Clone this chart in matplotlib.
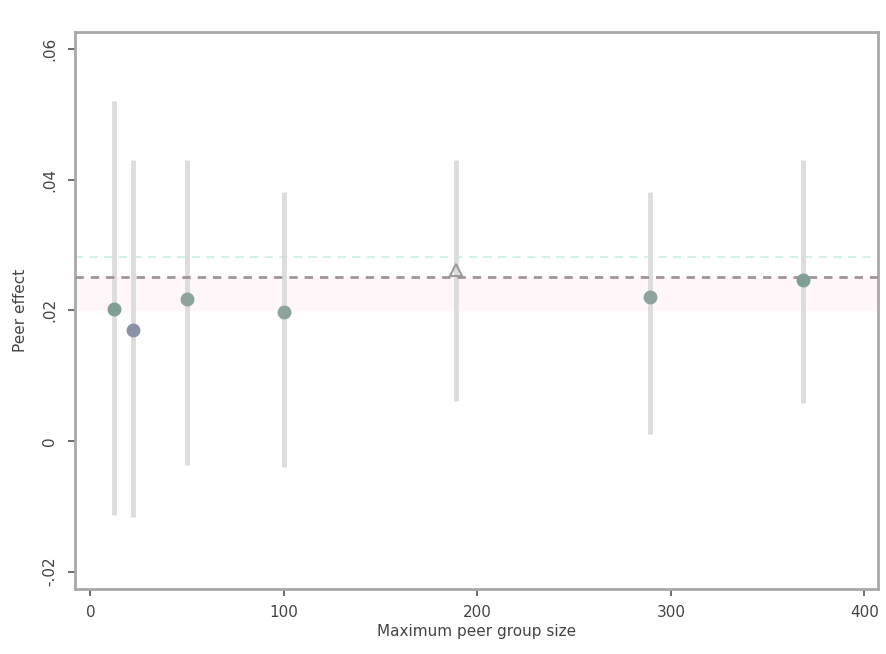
"""Peer effect by maximum peer group size."""

import matplotlib as mpl
import matplotlib.pyplot as plt
import numpy as np

mpl.use("Agg")

group_size = [12, 22, 50, 100, 189, 289, 368]
effect = [0.0202, 0.0170, 0.0218, 0.0197, 0.0261, 0.0220, 0.0246]
ci_low = [-0.0113, -0.0116, -0.0037, -0.0040, 0.0061, 0.0011, 0.0058]
ci_high = [0.0521, 0.0430, 0.0430, 0.0381, 0.0430, 0.0381, 0.0430]
marker_kind = ["o", "o", "o", "o", "^", "o", "o"]
marker_color = ["#7f9e96", "#8a93a6", "#8fa39e", "#8fa39e", "#9a9a9a", "#8fa39e", "#7f9e96"]

pooled_effect = 0.0251
pooled_alt = 0.0281
pooled_band = (0.0200, 0.0251)

x_ticks = [0, 100, 200, 300, 400]
y_ticks = [-0.02, 0, 0.02, 0.04, 0.06]
y_ticklabels = ["-.02", "0", ".02", ".04", ".06"]

fig = plt.figure(figsize=(8.86, 6.54), dpi=100)
ax = fig.add_axes([0.085, 0.099, 0.906, 0.852])

ax.axhspan(*pooled_band, color="#fef6f9", zorder=0)
ax.axhline(pooled_alt, color="#d3f1e7", lw=1.5, ls=(0, (4, 3)), zorder=1)

for x, lo, hi in zip(group_size, ci_low, ci_high):
    ax.plot([x, x], [lo, hi], color="#dcdcdc", lw=3.5, solid_capstyle="butt", zorder=2)

ax.axhline(pooled_effect, color="#a3929c", lw=2, ls=(0, (3, 2.5)), zorder=3)

for x, y, m, c in zip(group_size, effect, marker_kind, marker_color):
    if m == "^":
        ax.plot(x, y, marker=m, ms=8, mfc="none", mec=c, mew=1.5, zorder=4)
    else:
        ax.plot(x, y, marker=m, ms=9, color=c, zorder=4)

ax.set_xlim(-7.8, 407)
ax.set_ylim(-0.0227, 0.0626)
ax.set_xticks(x_ticks)
ax.set_xticklabels([str(t) for t in x_ticks])
ax.set_yticks(y_ticks)
ax.set_yticklabels(y_ticklabels, rotation=90, va="center")
ax.tick_params(colors="#555555", labelsize=11, length=5, width=1.2, labelcolor="#444444")
ax.tick_params(axis="y", pad=8)
ax.tick_params(axis="x", pad=6)

for side in ax.spines.values():
    side.set_color("#a8a8a8")
    side.set_linewidth(2)

ax.set_xlabel("Maximum peer group size", fontsize=11, color="#444444", labelpad=3)
ax.set_ylabel("Peer effect", fontsize=11, color="#444444", labelpad=10)

fig.savefig("out.png", dpi=100, facecolor="white")
plt.close(fig)
